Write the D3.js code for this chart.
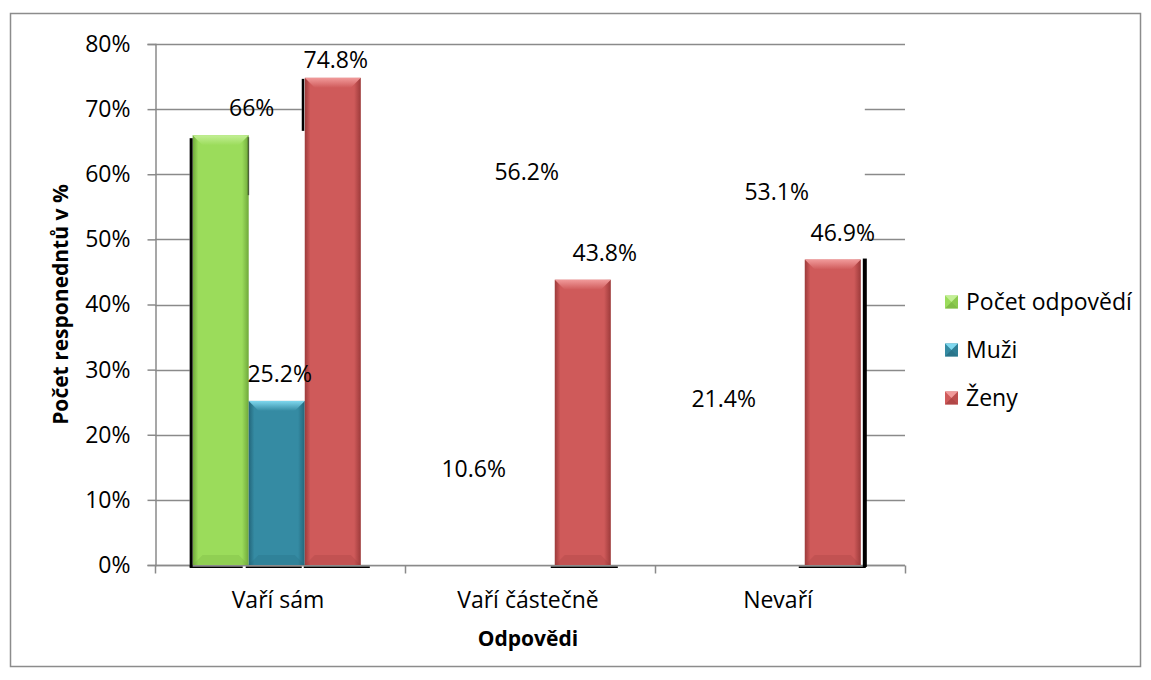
<!DOCTYPE html>
<html>
<head>
<meta charset="utf-8">
<script src="https://cdn.jsdelivr.net/npm/d3@7"></script>
<style>
  html, body { margin: 0; padding: 0; background: #fff; }
  svg text { font-family: "Open Sans", "DejaVu Sans", sans-serif; fill: #000; }
</style>
</head>
<body>
<svg id="chart" width="1151" height="680"></svg>
<script>
// ---- data ----
const categories = ["Vaří sám", "Vaří částečně", "Nevaří"];
const seriesNames = ["Počet odpovědí", "Muži", "Ženy"];
const pocetOdpovedi = [66, 10.6, 21.4];
const muzi = [25.2, 56.2, 53.1];
const zeny = [74.8, 43.8, 46.9];
const yTickValues = [0, 10, 20, 30, 40, 50, 60, 70, 80];
const yTitle = "Počet responedntů v %";
const xTitle = "Odpovědi";

// ---- layout / style ----
const W = 1151, H = 680;
const plot = { left: 155, top: 44, right: 905, bottom: 565 };
const colors = {
  "Počet odpovědí": { base: "#9bdc5b", dark: "#6fa83a", light: "#c3ef95" },
  "Muži":           { base: "#358ba3", dark: "#23667a", light: "#7fd8ef" },
  "Ženy":           { base: "#cf5a5a", dark: "#9c3a3a", light: "#f19a9a" }
};
// only the Ženy series has visible columns outside the first group
const columnShown = (ci, si) => ci === 0 || si === 2;
// horizontal nudges of individual value labels [category][series]
const labelNudge = [[31, 3, 3], [3, 0, 22], [3, 0, 10]];
const fontSize = 23;

const seriesValues = [pocetOdpovedi, muzi, zeny];
const rows = [];
categories.forEach((c, ci) => seriesNames.forEach((s, si) =>
  rows.push({ cat: c, ci, series: s, si, value: seriesValues[si][ci] })));

const svg = d3.select("#chart");

// outer frame
svg.append("rect").attr("x", 10.5).attr("y", 13.5).attr("width", 1130).attr("height", 653)
  .attr("fill", "#fff").attr("stroke", "#8c8c8c").attr("stroke-width", 1.5);

const x0 = d3.scaleBand().domain(categories).range([plot.left, plot.right]).padding(0);
const x1 = d3.scaleBand().domain(seriesNames).range([0, x0.bandwidth()])
  .paddingInner(0).paddingOuter(0.73).align(0.46);
const y = d3.scaleLinear().domain([0, 80]).range([plot.bottom, plot.top]);

// gradients
const defs = svg.append("defs");
seriesNames.forEach((s, i) => {
  const c = colors[s];
  const g = defs.append("linearGradient").attr("id", "gb" + i)
    .attr("x1", "0%").attr("x2", "100%").attr("y1", "0%").attr("y2", "0%");
  g.append("stop").attr("offset", "0%").attr("stop-color", c.dark);
  g.append("stop").attr("offset", "10%").attr("stop-color", c.base);
  g.append("stop").attr("offset", "88%").attr("stop-color", c.base);
  g.append("stop").attr("offset", "100%").attr("stop-color", c.dark);
  const t = defs.append("linearGradient").attr("id", "gt" + i)
    .attr("x1", "0%").attr("x2", "0%").attr("y1", "0%").attr("y2", "100%");
  t.append("stop").attr("offset", "0%").attr("stop-color", c.light);
  t.append("stop").attr("offset", "100%").attr("stop-color", c.base);
});

// gridlines
const grid = svg.append("g");
grid.selectAll("line").data(yTickValues).join("line")
  .attr("x1", plot.left).attr("x2", plot.right)
  .attr("y1", d => Math.round(y(d)) + 0.5).attr("y2", d => Math.round(y(d)) + 0.5)
  .attr("stroke", "#8a8a8a").attr("stroke-width", 1.5);

// white backdrop behind the columns (hides gridlines inside the group area)
const firstLeft = x0(categories[0]) + x1(seriesNames[0]) - 3;
const redLeft = x0(categories[0]) + x1(seriesNames[2]) - 3;
const lastRight = x0(categories[2]) + x1(seriesNames[2]) + x1.bandwidth() + 4;
const topAll = y(d3.max(zeny));
const topFirst = y(pocetOdpovedi[0]);
svg.append("path")
  .attr("d", `M${firstLeft},${plot.bottom} V${topFirst} H${redLeft} V${topAll} H${lastRight} V${plot.bottom} Z`)
  .attr("fill", "#fff");

// axes
const yAxis = d3.axisLeft(y).tickValues(yTickValues).tickFormat(d => d + "%").tickSize(8).tickPadding(17);
const gy = svg.append("g").attr("transform", `translate(${plot.left + 0.5},0)`).call(yAxis);
gy.select(".domain").attr("stroke", "#8a8a8a").attr("stroke-width", 1.5);
gy.selectAll(".tick line").attr("stroke", "#8a8a8a").attr("stroke-width", 1.5);
gy.selectAll(".tick text").attr("font-size", fontSize).attr("font-family", "Open Sans").attr("fill", "#000");

const xAxisY = Math.round(y(0)) + 0.5;
svg.append("line").attr("x1", plot.left).attr("x2", plot.right).attr("y1", xAxisY).attr("y2", xAxisY)
  .attr("stroke", "#8a8a8a").attr("stroke-width", 1.5);
const bounds = categories.map(c => x0(c)).concat([plot.right]);
svg.selectAll(".xtick").data(bounds).join("line").attr("class", "xtick")
  .attr("x1", d => d + 0.5).attr("x2", d => d + 0.5).attr("y1", xAxisY).attr("y2", xAxisY + 8)
  .attr("stroke", "#8a8a8a").attr("stroke-width", 1.5);
svg.selectAll(".xlab").data(categories).join("text").attr("class", "xlab")
  .attr("x", d => x0(d) + x0.bandwidth() / 2 - 2).attr("y", 608)
  .attr("text-anchor", "middle").attr("font-size", fontSize).text(d => d);

// columns
const bars = svg.append("g");
rows.forEach(d => {
  const bx = x0(d.cat) + x1(d.series), bw = x1.bandwidth();
  const top = y(d.value), bot = y(0);
  const g = bars.append("g");
  if (!columnShown(d.ci, d.si)) {
    g.append("rect").attr("x", bx).attr("y", top).attr("width", bw).attr("height", bot - top)
      .attr("fill", "none");
    return;
  }
  const b = 10;
  g.append("rect").attr("x", bx).attr("y", top).attr("width", bw).attr("height", bot - top)
    .attr("fill", `url(#gb${d.si})`);
  g.append("path")
    .attr("d", `M${bx},${top} H${bx + bw} L${bx + bw - b},${top + b} H${bx + b} Z`)
    .attr("fill", `url(#gt${d.si})`);
  g.append("path")
    .attr("d", `M${bx},${bot} H${bx + bw} L${bx + bw - b},${bot - b} H${bx + b} Z`)
    .attr("fill", colors[d.series].dark).attr("opacity", 0.25);
});

// dark column shadows
const shadow = svg.append("g").attr("fill", "#000");
const gL = x0(categories[0]) + x1(seriesNames[0]);
const rL = x0(categories[0]) + x1(seriesNames[2]);
shadow.append("rect").attr("x", gL - 3).attr("y", y(pocetOdpovedi[0]) + 3).attr("width", 3)
  .attr("height", plot.bottom - y(pocetOdpovedi[0]) - 1);
shadow.append("rect").attr("x", gL + x1.bandwidth() - 1).attr("y", y(pocetOdpovedi[0]) + 2).attr("width", 1.5)
  .attr("height", 58).attr("opacity", 0.5);
shadow.append("rect").attr("x", rL - 3).attr("y", y(zeny[0]) + 1).attr("width", 2.5).attr("height", 52);
const nR = x0(categories[2]) + x1(seriesNames[2]) + x1.bandwidth();
shadow.append("rect").attr("x", nR + 2).attr("y", y(zeny[2]) - 1).attr("width", 4)
  .attr("height", plot.bottom - y(zeny[2]) + 3);
// baseline shadows under the columns
const baseShadows = [
  [gL - 3, gL + x1.bandwidth() - 6], [gL + x1.bandwidth() - 3, rL - 3], [rL - 1, rL + x1.bandwidth() + 9],
  [x0(categories[1]) + x1(seriesNames[2]) - 4, x0(categories[1]) + x1(seriesNames[2]) + x1.bandwidth() + 7],
  [x0(categories[2]) + x1(seriesNames[2]) - 6, nR + 5]
];
shadow.selectAll(".bs").data(baseShadows).join("rect").attr("class", "bs")
  .attr("x", d => d[0]).attr("y", plot.bottom + 1.5).attr("width", d => d[1] - d[0]).attr("height", 1.5);

// value labels
svg.append("g").selectAll("text").data(rows).join("text")
  .attr("x", d => x0(d.cat) + x1(d.series) + x1.bandwidth() / 2 + labelNudge[d.ci][d.si])
  .attr("y", d => Math.max(y(d.value) - 27, plot.top + 16))
  .attr("dy", "0.35em").attr("text-anchor", "middle").attr("font-size", fontSize)
  .text(d => d.value + "%");

// axis titles
svg.append("text").attr("transform", `translate(68,${(plot.top + plot.bottom) / 2}) rotate(-90)`)
  .attr("text-anchor", "middle").attr("font-size", 21).attr("font-weight", "bold").text(yTitle);
svg.append("text").attr("x", 528).attr("y", 646).attr("text-anchor", "middle")
  .attr("font-size", 21).attr("font-weight", "bold").text(xTitle);

// legend
const legend = svg.append("g").attr("transform", "translate(945,0)");
seriesNames.forEach((s, i) => {
  const cy = 302 + i * 48, sz = 13, c = colors[s];
  const g = legend.append("g").attr("transform", `translate(0,${cy - sz / 2})`);
  const m = sz / 2;
  g.append("rect").attr("width", sz).attr("height", sz).attr("fill", c.base);
  g.append("path").attr("d", `M0,0 L${sz},0 L${m},${m} Z`).attr("fill", c.light);
  g.append("path").attr("d", `M0,${sz} L${sz},${sz} L${m},${m} Z`).attr("fill", c.dark).attr("opacity", 0.6);
  g.append("path").attr("d", `M${sz},0 L${sz},${sz} L${m},${m} Z`).attr("fill", c.dark).attr("opacity", 0.35);
  legend.append("text").attr("x", 21).attr("y", cy).attr("dy", "0.35em")
    .attr("font-size", fontSize).text(s);
});
</script>
</body>
</html>
